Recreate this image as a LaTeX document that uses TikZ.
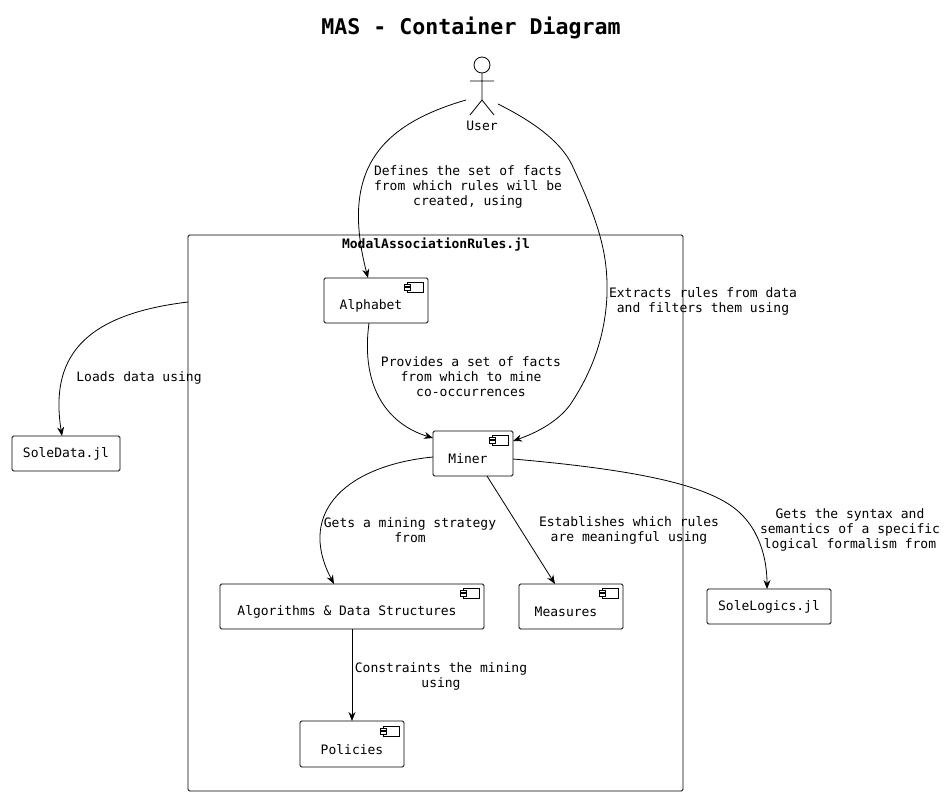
\documentclass[tikz,border=0pt]{standalone}
\usepackage{fontspec}
\setmonofont{DejaVu Sans Mono}
\usetikzlibrary{arrows.meta}
\begin{document}
\begin{tikzpicture}[x=1pt,y=-1pt,
  txt/.style={font=\fontsize{13}{15}\selectfont\ttfamily,align=center,inner sep=0},
  comp/.style={draw,rounded corners=1.5pt,line width=0.8pt},
  arr/.style={-{Stealth[length=9pt,width=7pt]},line width=0.8pt}]
\useasboundingbox (0,0) rectangle (950,796);
\node[inner sep=0,font=\fontsize{21.6}{24}\selectfont\ttfamily\bfseries] (title) at (471,28) {MAS - Container Diagram};
% actor
\draw[line width=0.8pt] (482,65) circle (8);
\draw[line width=0.8pt] (482,73)--(482,100) (470,81)--(494,81) (482,100)--(470,115) (482,100)--(494,115);
\node[txt] (user) at (482,126) {User};
\coordinate (uL) at (466,100);
\coordinate (uR) at (498,104);
% container
\draw[comp] (188,235) rectangle (683,791);
\node[txt,font=\fontsize{13}{15}\selectfont\ttfamily\bfseries] (cont) at (436,245) {ModalAssociationRules.jl};
\coordinate (cL) at (188,302);
% components
\newcommand{\compicon}[2]{\draw[line width=0.7pt] (#1,#2) rectangle ++(16,10);
  \draw[line width=0.7pt,fill=white] (#1-3,#2+2) rectangle ++(6,2.5) (#1-3,#2+5.5) rectangle ++(6,2.5);}
\draw[comp] (324,278) rectangle (428,323); \compicon{407}{282}
\node[txt] (alpha) at (371,306) {Alphabet};
\draw[comp] (433,431) rectangle (513,476); \compicon{492}{435}
\node[txt] (miner) at (468,459) {Miner};
\draw[comp] (220,584) rectangle (484,629); \compicon{463}{588}
\node[txt] (algo) at (347,612) {Algorithms \& Data Structures};
\draw[comp] (519,584) rectangle (623,629); \compicon{602}{588}
\node[txt] (meas) at (566,612) {Measures};
\draw[comp] (300,721) rectangle (404,767); \compicon{383}{726}
\node[txt] (pol) at (352,750) {Policies};
\draw[comp] (12,436) rectangle (120,471);
\node[txt] (sdata) at (66,454) {SoleData.jl};
\draw[comp] (707,589) rectangle (831,624);
\node[txt] (slog) at (769,607) {SoleLogics.jl};
% edges
\draw[arr] (uL) .. controls (380,125) and (340,170) .. (368,278);
\node[txt] (l1) at (468,187) {Defines the set of facts\\from which rules will be\\created, using};
\draw[arr] (uR) .. controls (530,120) and (560,140) .. (572,165) .. controls (600,225) and (608,255) .. (607,295) .. controls (605,340) and (590,375) .. (570,405) .. controls (555,425) and (530,435) .. (513,441);
\node[txt] (l2) at (703,301) {Extracts rules from data\\and filters them using};
\draw[arr] (cL) .. controls (80,315) and (50,360) .. (62,436);
\node[txt] (l3) at (139,378) {Loads data using};
\draw[arr] (369,323) .. controls (360,390) and (390,425) .. (433,438);
\node[txt] (l4) at (471,377) {Provides a set of facts\\from which to mine\\co-occurrences};
\draw[arr] (433,457) .. controls (350,465) and (295,510) .. (334,584);
\node[txt] (l5) at (410,530) {Gets a mining strategy\\from};
\draw[arr] (487,476) -- (555,584);
\node[txt] (l6) at (629,530) {Establishes which rules\\are meaningful using};
\draw[arr] (513,459) .. controls (640,470) and (700,485) .. (730,505) .. controls (760,525) and (767,560) .. (767,589);
\node[txt] (l7) at (850,530) {Gets the syntax and\\semantics of a specific\\logical formalism from};
\draw[arr] (352,629) -- (352,721);
\node[txt] (l8) at (441,676) {Constraints the mining\\using};
\end{tikzpicture}
\end{document}
